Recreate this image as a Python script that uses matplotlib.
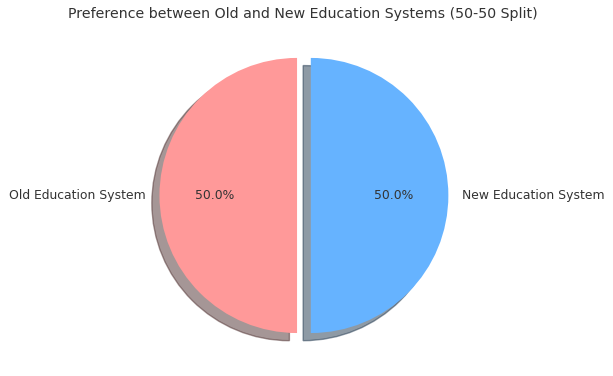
import matplotlib.pyplot as plt

# data
labels = ["Old Education System", "New Education System"]
sizes = [50, 50]
colors = ["#ff9999", "#66b3ff"]
explode = (0.05, 0.05)

fig = plt.figure(figsize=(6.13, 3.76), dpi=100)
ax = fig.add_axes([0.2153, 0.0226, 0.561, 0.915])

ax.pie(sizes, explode=explode, labels=labels, colors=colors,
       autopct="%1.1f%%", startangle=90,
       shadow={"ox": -0.04, "oy": -0.04},
       textprops={"color": "#333333", "fontsize": 8.9})
ax.set_aspect("equal")

fig.suptitle("Preference between Old and New Education Systems (50-50 Split)",
             x=0.4943, y=0.982, fontsize=10.2, color="#333333")

fig.savefig("out.png", dpi=100)
